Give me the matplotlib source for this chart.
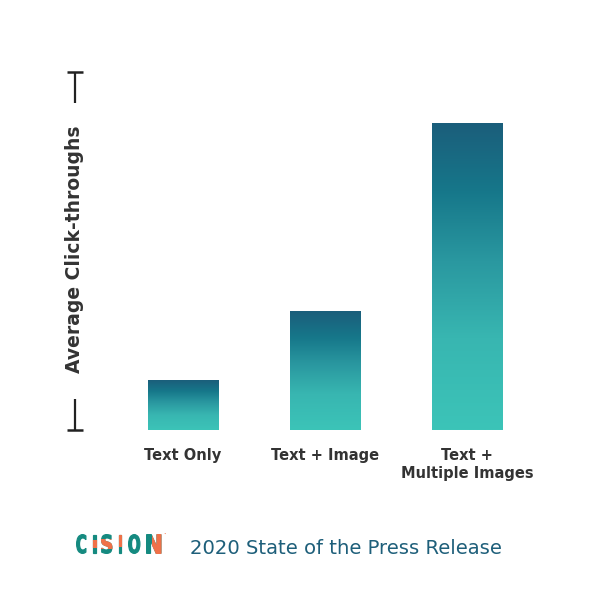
import matplotlib
matplotlib.use('Agg')
import matplotlib.pyplot as plt
import numpy as np
from matplotlib.colors import LinearSegmentedColormap
from matplotlib.patches import Rectangle, PathPatch
from matplotlib.textpath import TextPath
from matplotlib.font_manager import FontProperties
from matplotlib.transforms import Affine2D, IdentityTransform

# data (relative heights, no scale printed)
categories = ['Text Only', 'Text + Image', 'Text +\nMultiple Images']
clicks = [50, 119, 307]
y_top = 358

W, H = 600, 608
fig = plt.figure(figsize=(W / 100, H / 100), dpi=100)
fig.patch.set_facecolor('white')

# axes placed so bar centres land where they are in the reference
left_px, right_px, bottom_px, top_px = 75, 560, 430, 72
ax = fig.add_axes([left_px / W, 1 - bottom_px / H, (right_px - left_px) / W, (bottom_px - top_px) / H])
x0 = (left_px - 183) / 142
x1 = (right_px - 183) / 142
ax.set_xlim(x0, x1)
ax.set_ylim(0, y_top)
for s in ax.spines.values():
    s.set_visible(False)
ax.set_yticks([])

# gradient for the bars, light teal at the bottom, dark blue at the top
cmap = LinearSegmentedColormap.from_list('cision', [
    (0.0, '#3cc4b8'), (0.3, '#38b6b1'), (0.55, '#2a98a0'),
    (0.78, '#16778a'), (1.0, '#1b5e7b')])
grad = np.linspace(0, 1, 256).reshape(-1, 1)
bar_w = 0.5
bars = ax.bar(range(len(clicks)), clicks, width=bar_w, color='none', edgecolor='none')
for b in bars:
    bx, by = b.get_x(), b.get_y()
    bw, bh = b.get_width(), b.get_height()
    ax.imshow(grad, cmap=cmap, origin='lower', aspect='auto',
              extent=[bx, bx + bw, by, by + bh], interpolation='bilinear', zorder=2)
ax.set_xlim(x0, x1)
ax.set_ylim(0, y_top)

# category labels
ax.set_xticks(range(len(categories)))
ax.set_xticklabels(categories, fontsize=10.5, fontweight='bold', color='#333333',
                   linespacing=1.25)
ax.tick_params(axis='x', length=0, pad=13)

# broken y axis with end caps
tr = ax.get_yaxis_transform()
ax.plot([0, 0], [0, 31], color='#222222', lw=1.6, transform=tr, clip_on=False, solid_capstyle='butt')
ax.plot([0, 0], [327, y_top], color='#222222', lw=1.6, transform=tr, clip_on=False, solid_capstyle='butt')
ax.plot([0], [0], marker='_', ms=11, mew=1.8, color='#222222', transform=tr, clip_on=False)
ax.plot([0], [y_top], marker='_', ms=11, mew=1.8, color='#222222', transform=tr, clip_on=False)

fig.text(left_px / W, 1 - 249 / H, 'Average Click-throughs', rotation=90,
         ha='center', va='center', fontsize=13.5, fontweight='bold', color='#333333')

# logo: condensed letters built from text paths, squeezed into their boxes
teal = '#158a80'
orange = '#f07148'
fp = FontProperties(family='DejaVu Sans', weight='bold')
letters = ['C', 'I', 'S', 'I', 'O', 'N']
boxes = [(76, 86.5), (92.5, 96.5), (101, 112.5), (118, 122), (128, 140.5), (146, 161.5)]
logo_top, logo_bot = 534, 554
orange_parts = [None, ('band', 540, 548), ('band', 539, 549), ('band', 533, 547), None, ('right', 0, 0)]
grow = 0.6  # stroke added around each letter to make it heavier
for ch, (bl, br), part in zip(letters, boxes, orange_parts):
    tp = TextPath((0, 0), ch, size=50, prop=fp)
    ext = tp.get_extents()
    sx = (br - bl - 2 * grow) / ext.width
    sy = (logo_bot - logo_top - 2 * grow) / ext.height
    t = (Affine2D().translate(-ext.x0, -ext.y0).scale(sx, sy)
         .translate(bl + grow, H - logo_bot + grow))
    path = t.transform_path(tp)
    fig.patches.append(PathPatch(path, facecolor=teal, edgecolor=teal, lw=grow * 2 * 0.72,
                                 transform=IdentityTransform(), figure=fig))
    if part is not None:
        op = PathPatch(path, facecolor=orange, edgecolor=orange, lw=grow * 2 * 0.72,
                       transform=IdentityTransform(), figure=fig)
        if part[0] == 'right':
            mid = (bl + br) / 2 - 1.5
            clip = Rectangle((mid, H - logo_bot - 2), br - mid + 2, logo_bot - logo_top + 4,
                             transform=IdentityTransform())
        else:
            clip = Rectangle((bl - 2, H - part[2]), br - bl + 4, part[2] - part[1],
                             transform=IdentityTransform())
        op.set_clip_path(clip)
        fig.patches.append(op)
fig.text(165 / W, 1 - 535 / H, '•', fontsize=3, color=orange, ha='center', va='center')

fig.text(190 / W, 1 - 549 / H, '2020 State of the Press Release', ha='left', va='center',
         fontsize=14.1, color='#1e5f7a')

fig.savefig('out.png', dpi=100, facecolor='white')
